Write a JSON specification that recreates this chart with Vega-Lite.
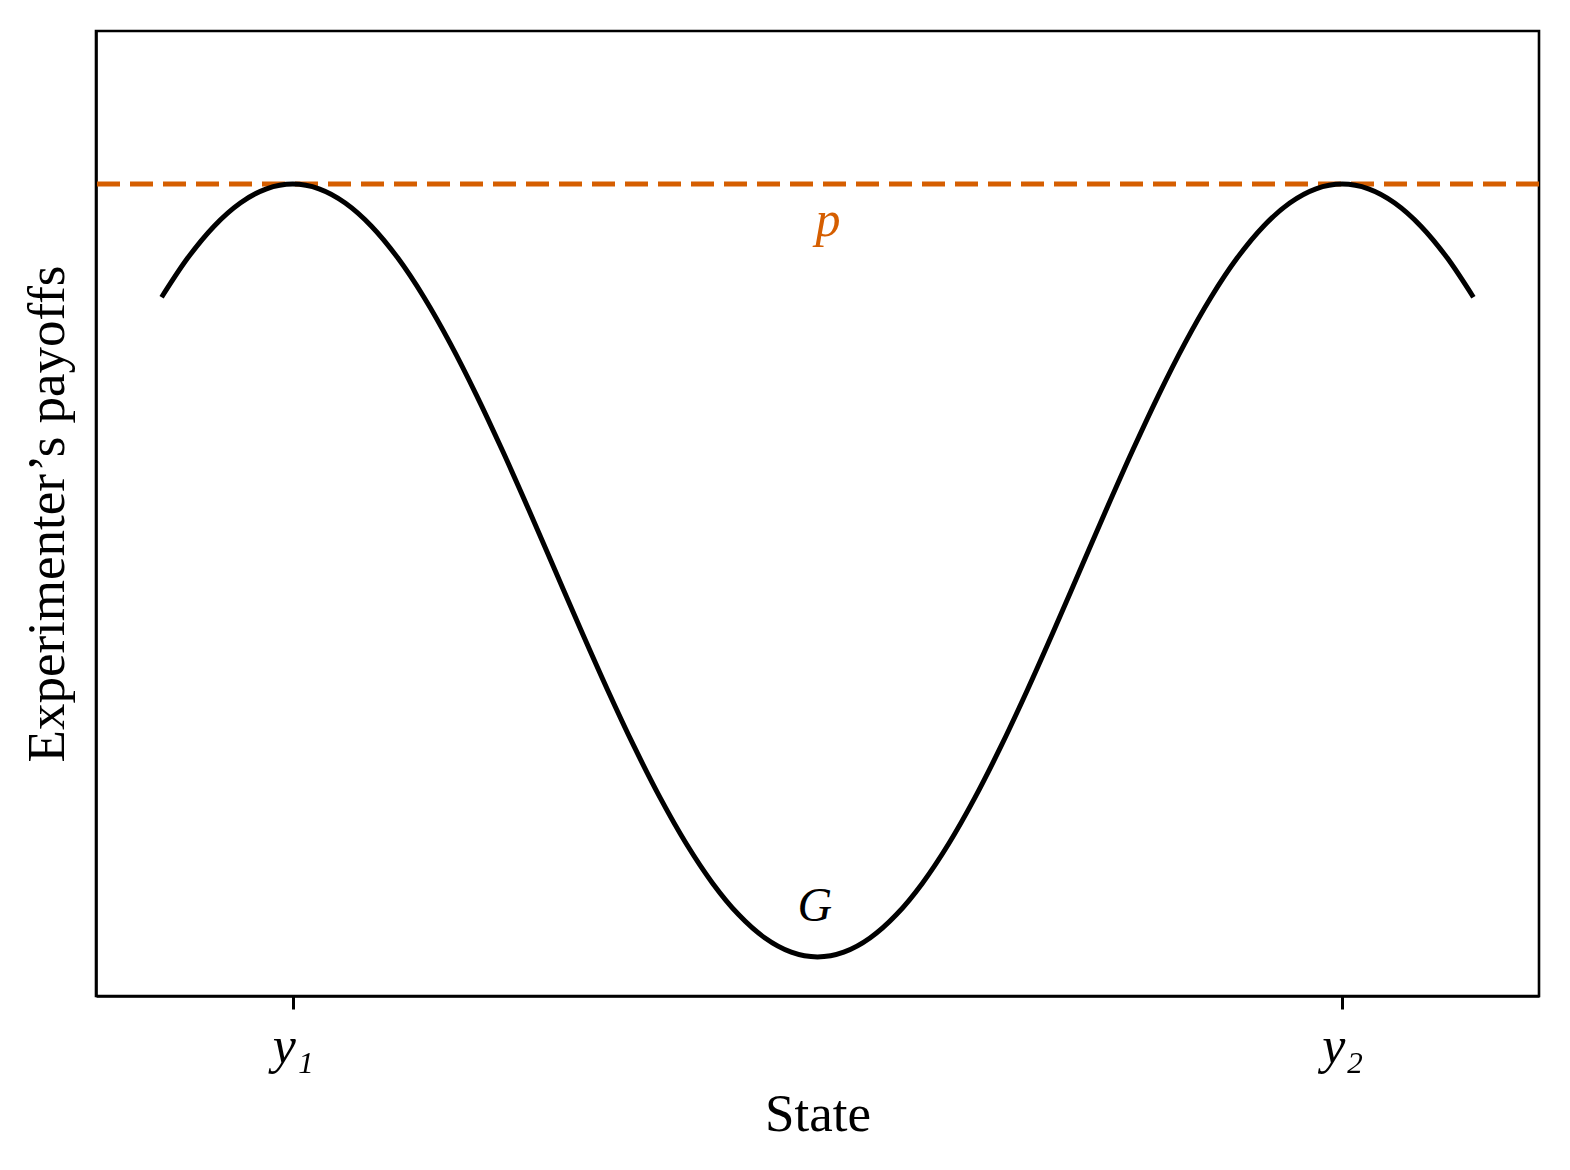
{
  "$schema": "https://vega.github.io/schema/vega-lite/v6.json",
  "autosize": {"type": "none"},
  "width": 1443,
  "height": 965,
  "padding": {"left": 96, "top": 31, "right": 31, "bottom": 174},
  "background": "white",
  "config": {
    "view": {"stroke": "black", "strokeWidth": 2.6},
    "font": "Liberation Serif"
  },
  "datasets": {
    "curve": [
      {"x": -1.25, "y": 0.70711}, {"x": -1.2, "y": 0.80902}, {"x": -1.15, "y": 0.89101}, {"x": -1.1, "y": 0.95106}, {"x": -1.05, "y": 0.98769},
      {"x": -1.0, "y": 1.0}, {"x": -0.95, "y": 0.98769}, {"x": -0.9, "y": 0.95106}, {"x": -0.85, "y": 0.89101}, {"x": -0.8, "y": 0.80902},
      {"x": -0.75, "y": 0.70711}, {"x": -0.7, "y": 0.58779}, {"x": -0.65, "y": 0.45399}, {"x": -0.6, "y": 0.30902}, {"x": -0.55, "y": 0.15643},
      {"x": -0.5, "y": 0.0}, {"x": -0.45, "y": -0.15643}, {"x": -0.4, "y": -0.30902}, {"x": -0.35, "y": -0.45399}, {"x": -0.3, "y": -0.58779},
      {"x": -0.25, "y": -0.70711}, {"x": -0.2, "y": -0.80902}, {"x": -0.15, "y": -0.89101}, {"x": -0.1, "y": -0.95106}, {"x": -0.05, "y": -0.98769},
      {"x": 0.0, "y": -1.0},
      {"x": 0.05, "y": -0.98769}, {"x": 0.1, "y": -0.95106}, {"x": 0.15, "y": -0.89101}, {"x": 0.2, "y": -0.80902}, {"x": 0.25, "y": -0.70711},
      {"x": 0.3, "y": -0.58779}, {"x": 0.35, "y": -0.45399}, {"x": 0.4, "y": -0.30902}, {"x": 0.45, "y": -0.15643}, {"x": 0.5, "y": 0.0},
      {"x": 0.55, "y": 0.15643}, {"x": 0.6, "y": 0.30902}, {"x": 0.65, "y": 0.45399}, {"x": 0.7, "y": 0.58779}, {"x": 0.75, "y": 0.70711},
      {"x": 0.8, "y": 0.80902}, {"x": 0.85, "y": 0.89101}, {"x": 0.9, "y": 0.95106}, {"x": 0.95, "y": 0.98769}, {"x": 1.0, "y": 1.0},
      {"x": 1.05, "y": 0.98769}, {"x": 1.1, "y": 0.95106}, {"x": 1.15, "y": 0.89101}, {"x": 1.2, "y": 0.80902}, {"x": 1.25, "y": 0.70711}
    ],
    "labels": [
      {"x": 0.02, "y": 0.905, "text": "p", "kind": "p"},
      {"x": -0.005, "y": -0.87, "text": "G", "kind": "G"}
    ],
    "threshold": [{"y": 1.0}]
  },
  "layer": [
    {
      "data": {"name": "threshold"},
      "mark": {"type": "rule", "color": "#D55E00", "strokeWidth": 5, "strokeDash": [23, 10]},
      "encoding": {
        "y": {
          "field": "y", "type": "quantitative",
          "scale": {"domain": [-1.101, 1.396], "nice": false, "zero": false},
          "axis": {
            "title": "Experimenter’s payoffs",
            "titleFontSize": 53, "titleFontWeight": "normal", "titleColor": "black", "titlePadding": 22,
            "labels": false, "ticks": false, "grid": false,
            "domainColor": "black", "domainWidth": 2.6
          }
        }
      }
    },
    {
      "data": {"name": "curve"},
      "mark": {"type": "line", "color": "black", "strokeWidth": 5, "interpolate": "monotone", "strokeCap": "butt"},
      "encoding": {
        "x": {
          "field": "x", "type": "quantitative",
          "scale": {"domain": [-1.375, 1.375], "nice": false, "zero": false},
          "axis": {
            "values": [-1, 1],
            "labelExpr": "datum.value < 0 ? 'y₁' : 'y₂'",
            "title": "State",
            "titleFontSize": 53, "titleFontWeight": "normal", "titleColor": "black", "titlePadding": 16,
            "labelFontSize": 52, "labelFontStyle": "italic", "labelColor": "black", "labelPadding": 12,
            "tickSize": 13, "tickWidth": 3, "tickColor": "black",
            "domainColor": "black", "domainWidth": 2.6,
            "grid": false
          }
        },
        "y": {"field": "y", "type": "quantitative"}
      }
    },
    {
      "data": {"name": "labels"},
      "transform": [{"filter": "datum.kind == 'p'"}],
      "mark": {"type": "text", "color": "#D55E00", "fontSize": 50, "fontStyle": "italic", "align": "center", "baseline": "middle"},
      "encoding": {
        "x": {"field": "x", "type": "quantitative"},
        "y": {"field": "y", "type": "quantitative"},
        "text": {"field": "text"}
      }
    },
    {
      "data": {"name": "labels"},
      "transform": [{"filter": "datum.kind == 'G'"}],
      "mark": {"type": "text", "color": "black", "fontSize": 48, "fontStyle": "italic", "align": "center", "baseline": "middle"},
      "encoding": {
        "x": {"field": "x", "type": "quantitative"},
        "y": {"field": "y", "type": "quantitative"},
        "text": {"field": "text"}
      }
    }
  ]
}
